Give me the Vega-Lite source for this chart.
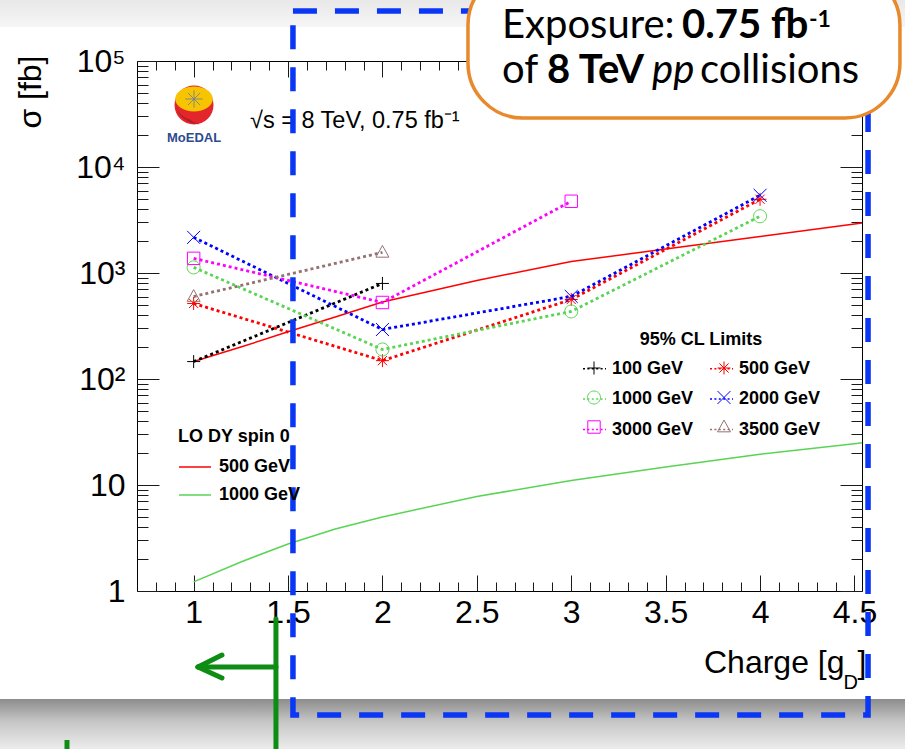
{
  "$schema": "https://vega.github.io/schema/vega-lite/v6.json",
  "width": 725,
  "height": 530,
  "autosize": {"type": "none"},
  "padding": {"left": 137, "top": 61, "right": 43, "bottom": 158},
  "background": "#ffffff",
  "config": {
    "view": {"stroke": "#000000", "strokeWidth": 1},
    "font": "Liberation Sans",
    "axis": {"domain": false, "grid": false, "tickColor": "#1a1a1a", "tickWidth": 1, "labelFont": "Liberation Sans", "labelColor": "#000000", "titleFont": "Liberation Sans", "titleColor": "#000000", "titleFontWeight": "normal", "labelFlush": false, "labelOverlap": false, "labelBound": false},
    "legend": {"labelFont": "Liberation Sans", "titleFont": "Liberation Sans", "padding": 0}
  },
  "data": {"values": [{}]},
  "datasets": {
    "limits": [
      {"mass": "100 GeV", "charge": 1, "xs": 146},
      {"mass": "100 GeV", "charge": 2, "xs": 797},
      {"mass": "500 GeV", "charge": 1, "xs": 516},
      {"mass": "500 GeV", "charge": 2, "xs": 149},
      {"mass": "500 GeV", "charge": 3, "xs": 562},
      {"mass": "500 GeV", "charge": 4, "xs": 4960},
      {"mass": "1000 GeV", "charge": 1, "xs": 1130},
      {"mass": "1000 GeV", "charge": 2, "xs": 190},
      {"mass": "1000 GeV", "charge": 3, "xs": 434},
      {"mass": "1000 GeV", "charge": 4, "xs": 3430},
      {"mass": "2000 GeV", "charge": 1, "xs": 2170},
      {"mass": "2000 GeV", "charge": 2, "xs": 293},
      {"mass": "2000 GeV", "charge": 3, "xs": 601},
      {"mass": "2000 GeV", "charge": 4, "xs": 5410},
      {"mass": "3000 GeV", "charge": 1, "xs": 1375},
      {"mass": "3000 GeV", "charge": 2, "xs": 527},
      {"mass": "3000 GeV", "charge": 3, "xs": 4750},
      {"mass": "3500 GeV", "charge": 1, "xs": 600},
      {"mass": "3500 GeV", "charge": 2, "xs": 1566}
    ],
    "lo": [
      {"mass": "500 GeV", "charge": 1, "xs": 146},
      {"mass": "500 GeV", "charge": 1.25, "xs": 200},
      {"mass": "500 GeV", "charge": 1.5, "xs": 279},
      {"mass": "500 GeV", "charge": 1.75, "xs": 385},
      {"mass": "500 GeV", "charge": 2, "xs": 532},
      {"mass": "500 GeV", "charge": 2.5, "xs": 851},
      {"mass": "500 GeV", "charge": 3, "xs": 1282},
      {"mass": "500 GeV", "charge": 3.5, "xs": 1683},
      {"mass": "500 GeV", "charge": 4, "xs": 2208},
      {"mass": "500 GeV", "charge": 4.5, "xs": 2897},
      {"mass": "500 GeV", "charge": 4.54, "xs": 2965},
      {"mass": "1000 GeV", "charge": 1, "xs": 1.22},
      {"mass": "1000 GeV", "charge": 1.25, "xs": 1.88},
      {"mass": "1000 GeV", "charge": 1.5, "xs": 2.78},
      {"mass": "1000 GeV", "charge": 1.75, "xs": 3.85},
      {"mass": "1000 GeV", "charge": 2, "xs": 5.0},
      {"mass": "1000 GeV", "charge": 2.5, "xs": 7.8},
      {"mass": "1000 GeV", "charge": 3, "xs": 11.0},
      {"mass": "1000 GeV", "charge": 3.5, "xs": 14.8},
      {"mass": "1000 GeV", "charge": 4, "xs": 19.5},
      {"mass": "1000 GeV", "charge": 4.5, "xs": 24.5},
      {"mass": "1000 GeV", "charge": 4.54, "xs": 25.0}
    ]
  },
  "resolve": {"scale": {"stroke": "independent", "shape": "independent"}, "axis": {"x": "independent", "y": "independent"}},
  "layer": [
    {
      "mark": {"type": "rect", "fill": {"gradient": "linear", "x1": 0, "y1": 0, "x2": 0, "y2": 1, "stops": [{"offset": 0, "color": "#e8e8e8"}, {"offset": 1, "color": "#f6f6f6"}]}},
      "encoding": {
        "x": {"datum": -0.2, "type": "quantitative", "axis": null},
        "x2": {"datum": 5.0},
        "y": {"datum": 376300, "type": "quantitative", "axis": null},
        "y2": {"datum": 209300}
      }
    },
    {
      "mark": {"type": "rect", "fill": {"gradient": "linear", "x1": 0, "y1": 0, "x2": 0, "y2": 1, "stops": [{"offset": 0, "color": "#8c8c8c"}, {"offset": 0.45, "color": "#c6c6c6"}, {"offset": 1, "color": "#ececec"}]}},
      "encoding": {
        "x": {"datum": -0.2, "type": "quantitative", "axis": null},
        "x2": {"datum": 5.0},
        "y": {"datum": 0.09575, "type": "quantitative", "axis": null},
        "y2": {"datum": 0.0323}
      }
    },
    {
      "data": {"values": [{"ax": 1, "ay": 1}]},
      "mark": {"type": "point", "opacity": 0},
      "encoding": {
        "x": {"field": "ax", "type": "quantitative", "scale": {"type": "linear", "domain": [0.7, 4.54], "nice": false, "zero": false},
          "axis": {"orient": "bottom", "values": [1, 1.5, 2, 2.5, 3, 3.5, 4, 4.5], "tickSize": -16, "labelPadding": 47, "labelBaseline": "alphabetic", "format": "~g", "labelFontSize": 32,
            "title": "Charge [g", "titleFontSize": 32, "titleAlign": "right", "titleBaseline": "alphabetic", "titleAngle": 0, "titleX": 707, "titleY": 81}},
        "y": {"field": "ay", "type": "quantitative", "scale": {"type": "log", "domain": [1, 100000], "nice": false},
          "axis": {"orient": "left", "values": [1, 10, 100, 1000, 10000, 100000], "tickSize": -22, "labelPadding": 34, "labelFontSize": 32, "labelBaseline": "middle",
            "labelExpr": "datum.value == 1 ? '1' : datum.value == 10 ? '10' : datum.value == 100 ? '10²' : datum.value == 1000 ? '10³' : datum.value == 10000 ? '10⁴' : '10⁵'",
            "title": "σ [fb]", "titleFontSize": 32, "titleAngle": 270, "titleAlign": "right", "titleBaseline": "middle", "titleX": -107, "titleY": -6}}
      }
    },
    {
      "data": {"values": [{"ax": 1, "ay": 1}]},
      "mark": {"type": "point", "opacity": 0},
      "encoding": {
        "x": {"field": "ax", "type": "quantitative", "scale": {"type": "linear", "domain": [0.7, 4.54], "nice": false, "zero": false},
          "axis": {"orient": "bottom", "values": [0.8, 0.9, 1.1, 1.2, 1.3, 1.4, 1.6, 1.7, 1.8, 1.9, 2.1, 2.2, 2.3, 2.4, 2.6, 2.7, 2.8, 2.9, 3.1, 3.2, 3.3, 3.4, 3.6, 3.7, 3.8, 3.9, 4.1, 4.2, 4.3, 4.4], "tickSize": -9, "labels": false,
            "title": "D", "titleFontSize": 20, "titleAlign": "left", "titleBaseline": "alphabetic", "titleAngle": 0, "titleX": 706, "titleY": 97}},
        "y": {"field": "ay", "type": "quantitative", "scale": {"type": "log", "domain": [1, 100000], "nice": false},
          "axis": {"orient": "left", "values": [2, 3, 4, 5, 6, 7, 8, 9, 20, 30, 40, 50, 60, 70, 80, 90, 200, 300, 400, 500, 600, 700, 800, 900, 2000, 3000, 4000, 5000, 6000, 7000, 8000, 9000, 20000, 30000, 40000, 50000, 60000, 70000, 80000, 90000], "tickSize": -11, "labels": false, "title": null}}
      }
    },
    {
      "data": {"values": [{"ax": 1, "ay": 1}]},
      "mark": {"type": "point", "opacity": 0},
      "encoding": {
        "x": {"field": "ax", "type": "quantitative", "scale": {"type": "linear", "domain": [0.7, 4.54], "nice": false, "zero": false},
          "axis": {"orient": "top", "values": [1, 1.5, 2, 2.5, 3, 3.5, 4, 4.5], "tickSize": -16, "labels": false,
            "title": "]", "titleFontSize": 32, "titleAlign": "left", "titleBaseline": "alphabetic", "titleAngle": 0, "titleX": 720, "titleY": 611}},
        "y": {"field": "ay", "type": "quantitative", "scale": {"type": "log", "domain": [1, 100000], "nice": false},
          "axis": {"orient": "right", "values": [1, 10, 100, 1000, 10000, 100000], "tickSize": -22, "labels": false, "title": null}}
      }
    },
    {
      "data": {"values": [{"ax": 1, "ay": 1}]},
      "mark": {"type": "point", "opacity": 0},
      "encoding": {
        "x": {"field": "ax", "type": "quantitative", "scale": {"type": "linear", "domain": [0.7, 4.54], "nice": false, "zero": false},
          "axis": {"orient": "top", "values": [0.8, 0.9, 1.1, 1.2, 1.3, 1.4, 1.6, 1.7, 1.8, 1.9, 2.1, 2.2, 2.3, 2.4, 2.6, 2.7, 2.8, 2.9, 3.1, 3.2, 3.3, 3.4, 3.6, 3.7, 3.8, 3.9, 4.1, 4.2, 4.3, 4.4], "tickSize": -9, "labels": false, "title": null}},
        "y": {"field": "ay", "type": "quantitative", "scale": {"type": "log", "domain": [1, 100000], "nice": false},
          "axis": {"orient": "right", "values": [2, 3, 4, 5, 6, 7, 8, 9, 20, 30, 40, 50, 60, 70, 80, 90, 200, 300, 400, 500, 600, 700, 800, 900, 2000, 3000, 4000, 5000, 6000, 7000, 8000, 9000, 20000, 30000, 40000, 50000, 60000, 70000, 80000, 90000], "tickSize": -11, "labels": false, "title": null}}
      }
    },
    {
      "data": {"name": "lo"},
      "mark": {"type": "line", "strokeWidth": 1.5, "clip": true},
      "encoding": {
        "x": {"field": "charge", "type": "quantitative", "scale": {"type": "linear", "domain": [0.7, 4.54], "nice": false, "zero": false}, "axis": null},
        "y": {"field": "xs", "type": "quantitative", "scale": {"type": "log", "domain": [1, 100000], "nice": false}, "axis": null},
        "stroke": {"field": "mass", "type": "nominal", "scale": {"domain": ["500 GeV", "1000 GeV"], "range": ["#ff0000", "#59d454"]},
          "legend": {"title": "LO DY spin 0", "orient": "none", "legendX": 41, "legendY": 367, "symbolType": "stroke", "symbolSize": 1024, "symbolStrokeWidth": 1.5, "rowPadding": 2, "labelOffset": 7,
            "labelFontSize": 18, "labelFontWeight": "bold", "titleFontSize": 18, "titleFontWeight": "bold", "titleColor": "#000000", "titleAnchor": "start", "titlePadding": 4,
            "encode": {"labels": {"fill": {"condition": {"test": "datum.value === '500 GeV'", "value": "#ff0000"}, "value": "#59d454"}}}}}
      }
    },
    {
      "data": {"name": "limits"},
      "mark": {"type": "line", "strokeWidth": 2.8, "strokeDash": [3, 3]},
      "encoding": {
        "x": {"field": "charge", "type": "quantitative", "scale": {"type": "linear", "domain": [0.7, 4.54], "nice": false, "zero": false}, "axis": null},
        "y": {"field": "xs", "type": "quantitative", "scale": {"type": "log", "domain": [1, 100000], "nice": false}, "axis": null},
        "color": {"field": "mass", "type": "nominal", "scale": {"domain": ["100 GeV", "500 GeV", "1000 GeV", "2000 GeV", "3000 GeV", "3500 GeV"], "range": ["#000000", "#ff0000", "#59d454", "#0000ff", "#ff00ff", "#957272"]},
          "legend": {"title": "95% CL Limits", "orient": "none", "legendX": 445, "legendY": 270, "columns": 2, "direction": "horizontal", "columnPadding": 12, "rowPadding": 8.5,
            "symbolType": "stroke", "symbolSize": 529, "symbolStrokeWidth": 1.6, "symbolDash": [2, 2.4], "labelOffset": 5, "labelFontSize": 18, "labelFontWeight": "bold",
            "titleFontSize": 18, "titleFontWeight": "bold", "titleColor": "#000000", "titleAnchor": "middle", "titlePadding": 7,
            "encode": {
              "labels": {"fill": {"condition": [
                  {"test": "datum.value === '100 GeV'", "value": "#000000"},
                  {"test": "datum.value === '500 GeV'", "value": "#ff0000"},
                  {"test": "datum.value === '1000 GeV'", "value": "#59d454"},
                  {"test": "datum.value === '2000 GeV'", "value": "#0000ff"},
                  {"test": "datum.value === '3000 GeV'", "value": "#ff00ff"}
                ], "value": "#957272"}}
            }}}
      }
    },
    {
      "data": {"name": "limits"},
      "mark": {"type": "point", "filled": false, "strokeWidth": 1, "size": 529, "opacity": 1},
      "encoding": {
        "x": {"field": "charge", "type": "quantitative", "scale": {"type": "linear", "domain": [0.7, 4.54], "nice": false, "zero": false}, "axis": null},
        "y": {"field": "xs", "type": "quantitative", "scale": {"type": "log", "domain": [1, 100000], "nice": false}, "axis": null},
        "stroke": {"field": "mass", "type": "nominal", "scale": {"domain": ["100 GeV", "500 GeV", "1000 GeV", "2000 GeV", "3000 GeV", "3500 GeV"], "range": ["#000000", "#ff0000", "#59d454", "#0000ff", "#ff00ff", "#957272"]},
          "legend": {"title": null, "orient": "none", "legendX": 445, "legendY": 295, "columns": 2, "direction": "horizontal", "columnPadding": 101, "rowPadding": 8.5,
            "symbolSize": 529, "symbolStrokeWidth": 1, "symbolFillColor": "transparent", "labelExpr": "''", "labelOffset": 5, "labelFontSize": 18}},
        "shape": {"field": "mass", "type": "nominal",
          "scale": {"domain": ["100 GeV", "500 GeV", "1000 GeV", "2000 GeV", "3000 GeV", "3500 GeV"], "range": [
            "M-0.565,0H0.565M0,-0.565V0.565",
            "M-0.565,0H0.565M0,-0.565V0.565M-0.4,-0.4L0.4,0.4M-0.4,0.4L0.4,-0.4",
            "M0.565,0A0.565,0.565,0,1,1,-0.565,0A0.565,0.565,0,1,1,0.565,0Z",
            "M-0.565,-0.565L0.565,0.565M-0.565,0.565L0.565,-0.565",
            "M-0.54,-0.54H0.54V0.54H-0.54Z",
            "M0,-0.6L0.565,0.42H-0.565Z"]},
          "legend": {"title": null, "orient": "none", "legendX": 445, "legendY": 295, "columns": 2, "direction": "horizontal", "columnPadding": 101, "rowPadding": 8.5,
            "symbolSize": 529, "symbolStrokeWidth": 1, "symbolFillColor": "transparent", "labelExpr": "''", "labelOffset": 5, "labelFontSize": 18}}
      }
    },
    {
      "mark": {"type": "point", "shape": "circle", "filled": true, "color": "#e3262c", "size": 1520, "opacity": 1},
      "encoding": {"x": {"datum": 1.002, "type": "quantitative", "axis": null}, "y": {"datum": 38450, "type": "quantitative", "axis": null}}
    },
    {
      "mark": {"type": "point", "shape": "M-0.2,0.75A1,1,0,0,1,-0.95,-0.3A1.2,1.2,0,0,0,0.3,0.98A1,1,0,0,1,-0.2,0.75Z", "filled": true, "color": "#b01f25", "size": 1520, "opacity": 1},
      "encoding": {"x": {"datum": 1.002, "type": "quantitative", "axis": null}, "y": {"datum": 38450, "type": "quantitative", "axis": null}}
    },
    {
      "mark": {"type": "point", "shape": "M-1,0A1,0.66,0,1,1,1,0A1,0.66,0,1,1,-1,0Z", "filled": true, "color": "#f6c400", "size": 1414, "opacity": 1},
      "encoding": {"x": {"datum": 1.002, "type": "quantitative", "axis": null}, "y": {"datum": 43800, "type": "quantitative", "axis": null}}
    },
    {
      "mark": {"type": "point", "shape": "M-1,0L1,0M0,-1L0,1M-0.7,-0.7L0.7,0.7M-0.7,0.7L0.7,-0.7", "filled": false, "color": "#6a7aa6", "strokeWidth": 0.8, "size": 300, "opacity": 1},
      "encoding": {"x": {"datum": 1.002, "type": "quantitative", "axis": null}, "y": {"datum": 43800, "type": "quantitative", "axis": null}}
    },
    {
      "mark": {"type": "text", "text": "MoEDAL", "font": "Liberation Sans", "fontWeight": "bold", "fontSize": 13, "color": "#2d4b8f", "align": "center", "baseline": "alphabetic"},
      "encoding": {"x": {"datum": 1.002, "type": "quantitative", "axis": null}, "y": {"datum": 17220, "type": "quantitative", "axis": null}}
    },
    {
      "mark": {"type": "text", "text": "√s = 8 TeV, 0.75 fb⁻¹", "font": "Liberation Sans", "fontSize": 23.5, "color": "#000000", "align": "left", "baseline": "alphabetic"},
      "encoding": {"x": {"datum": 1.2985, "type": "quantitative", "axis": null}, "y": {"datum": 23330, "type": "quantitative", "axis": null}}
    },
    {
      "mark": {"type": "rect", "filled": false, "stroke": "#0a36f5", "strokeWidth": 5.5, "strokeDash": [24, 18]},
      "encoding": {
        "x": {"datum": 1.526, "type": "quantitative", "axis": null},
        "x2": {"datum": 4.572},
        "y": {"datum": 296200, "type": "quantitative", "axis": null},
        "y2": {"datum": 0.0676}
      }
    },
    {
      "mark": {"type": "rule", "stroke": "#0e8c14", "strokeWidth": 5, "strokeCap": "round"},
      "encoding": {"x": {"datum": 1.436, "type": "quantitative", "axis": null}, "y": {"datum": 0.5446, "type": "quantitative", "axis": null}, "y2": {"datum": 0.02}}
    },
    {
      "mark": {"type": "rule", "stroke": "#0e8c14", "strokeWidth": 5, "strokeCap": "round"},
      "encoding": {"x": {"datum": 1.436, "type": "quantitative", "axis": null}, "x2": {"datum": 1.023}, "y": {"datum": 0.1919, "type": "quantitative", "axis": null}, "y2": {"datum": 0.1919}}
    },
    {
      "mark": {"type": "rule", "stroke": "#0e8c14", "strokeWidth": 5, "strokeCap": "round"},
      "encoding": {"x": {"datum": 1.023, "type": "quantitative", "axis": null}, "x2": {"datum": 1.15}, "y": {"datum": 0.1919, "type": "quantitative", "axis": null}, "y2": {"datum": 0.2489}}
    },
    {
      "mark": {"type": "rule", "stroke": "#0e8c14", "strokeWidth": 5, "strokeCap": "round"},
      "encoding": {"x": {"datum": 1.023, "type": "quantitative", "axis": null}, "x2": {"datum": 1.15}, "y": {"datum": 0.1919, "type": "quantitative", "axis": null}, "y2": {"datum": 0.1511}}
    },
    {
      "mark": {"type": "rule", "stroke": "#0e8c14", "strokeWidth": 5},
      "encoding": {"x": {"datum": 0.3292, "type": "quantitative", "axis": null}, "y": {"datum": 0.0393, "type": "quantitative", "axis": null}, "y2": {"datum": 0.02}}
    },
    {
      "mark": {"type": "rect", "fill": "#ffffff", "stroke": "#e8892c", "strokeWidth": 3.5, "cornerRadius": 55},
      "encoding": {
        "x": {"datum": 2.453, "type": "quantitative", "axis": null},
        "x2": {"datum": 4.741},
        "y": {"datum": 721000, "type": "quantitative", "axis": null},
        "y2": {"datum": 28990}
      }
    },
    {
      "mark": {"type": "text", "text": "Exposure:", "font": "Lato", "fontSize": 40, "color": "#000000", "align": "left", "baseline": "alphabetic"},
      "encoding": {"x": {"datum": 2.633, "type": "quantitative", "axis": null}, "y": {"datum": 164800, "type": "quantitative", "axis": null}}
    },
    {
      "mark": {"type": "text", "text": "0.75 fb", "font": "Lato", "fontSize": 40, "fontWeight": "bold", "color": "#000000", "align": "left", "baseline": "alphabetic"},
      "encoding": {"x": {"datum": 3.587, "type": "quantitative", "axis": null}, "y": {"datum": 164800, "type": "quantitative", "axis": null}}
    },
    {
      "mark": {"type": "text", "text": "-1", "font": "Lato", "fontSize": 23, "fontWeight": "bold", "color": "#000000", "align": "left", "baseline": "alphabetic"},
      "encoding": {"x": {"datum": 4.259, "type": "quantitative", "axis": null}, "y": {"datum": 207500, "type": "quantitative", "axis": null}}
    },
    {
      "mark": {"type": "text", "text": "of", "font": "Lato", "fontSize": 40, "color": "#000000", "align": "left", "baseline": "alphabetic"},
      "encoding": {"x": {"datum": 2.633, "type": "quantitative", "axis": null}, "y": {"datum": 62010, "type": "quantitative", "axis": null}}
    },
    {
      "mark": {"type": "text", "text": "8 TeV", "font": "Lato", "fontSize": 40, "fontWeight": "bold", "color": "#000000", "align": "left", "baseline": "alphabetic"},
      "encoding": {"x": {"datum": 2.872, "type": "quantitative", "axis": null}, "y": {"datum": 62010, "type": "quantitative", "axis": null}}
    },
    {
      "mark": {"type": "text", "text": "pp", "font": "Lato", "fontSize": 40, "fontStyle": "italic", "color": "#000000", "align": "left", "baseline": "alphabetic"},
      "encoding": {"x": {"datum": 3.428, "type": "quantitative", "axis": null}, "y": {"datum": 62010, "type": "quantitative", "axis": null}}
    },
    {
      "mark": {"type": "text", "text": "collisions", "font": "Lato", "fontSize": 40, "color": "#000000", "align": "left", "baseline": "alphabetic"},
      "encoding": {"x": {"datum": 3.682, "type": "quantitative", "axis": null}, "y": {"datum": 62010, "type": "quantitative", "axis": null}}
    }
  ]
}
